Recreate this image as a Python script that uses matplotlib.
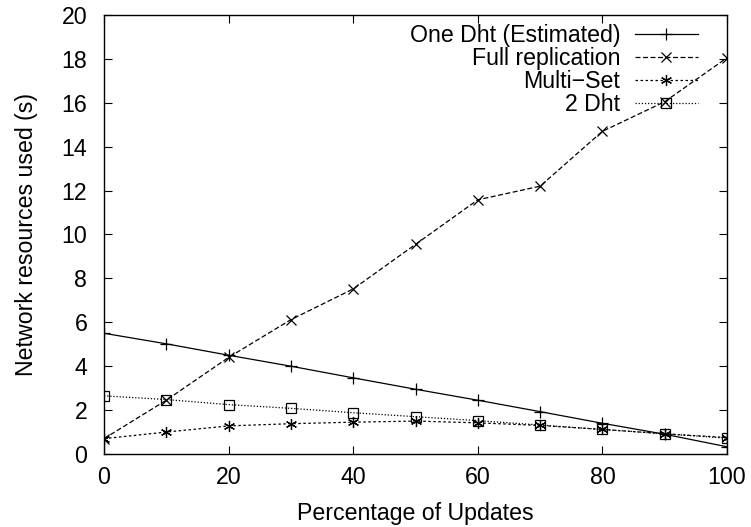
import matplotlib
matplotlib.use('Agg')
import matplotlib.pyplot as plt

plt.rcParams['font.family'] = ['Liberation Sans', 'DejaVu Sans']

updates = [0, 10, 20, 30, 40, 50, 60, 70, 80, 90, 100]
one_dht = [5.5, 5.02, 4.5, 4.0, 3.47, 2.95, 2.45, 1.93, 1.4, 0.9, 0.33]
full_repl = [0.7, 2.45, 4.4, 6.12, 7.52, 9.55, 11.58, 12.2, 14.7, 16.05, 18.05]
multi_set = [0.7, 1.0, 1.28, 1.38, 1.45, 1.5, 1.42, 1.3, 1.12, 0.92, 0.75]
two_dht = [2.65, 2.48, 2.25, 2.08, 1.88, 1.7, 1.52, 1.32, 1.12, 0.92, 0.72]

labels = ['One Dht (Estimated)', 'Full replication', 'Multi\u2212Set', '2 Dht']

fs = 16.7

fig = plt.figure(figsize=(7.51, 5.27), dpi=100)
ax = fig.add_axes([104/751, 1-454/527, 623/751, 439/527])

ax.plot(updates, one_dht, '-', color='black', lw=0.9, marker='+', ms=8, mew=0.9, label=labels[0])
ax.plot(updates, full_repl, color='black', lw=0.9, ls=(0, (4, 2)), marker='x', ms=7, mew=0.9, label=labels[1])
ax.plot(updates, multi_set, color='black', lw=0.9, ls=(0, (2, 2)), marker=(6, 2, 0), ms=8, mew=0.9, label=labels[2])
ax.plot(updates, two_dht, color='black', lw=0.9, ls=(0, (1, 1.5)), marker='s', ms=7, mew=0.9,
        mfc='none', label=labels[3])

ax.set_xlim(0, 100)
ax.set_ylim(0, 20)
ax.set_xticks(range(0, 101, 20))
ax.set_yticks(range(0, 21, 2))
ax.tick_params(direction='in', top=True, right=True, length=6, labelsize=fs)
ax.tick_params(axis='y', pad=12)
ax.tick_params(axis='x', pad=9)
for s in ax.spines.values():
    s.set_linewidth(1)

ax.set_xlabel('Percentage of Updates', fontsize=fs, labelpad=9)
ax.set_ylabel('Network resources used (s)', fontsize=fs, labelpad=17)

ax.legend(loc='upper right', bbox_to_anchor=(0.968, 1.0), markerfirst=False, frameon=False,
          fontsize=fs, handlelength=2.7, labelspacing=0.0, handletextpad=0.65, borderaxespad=0.0)

fig.savefig('out.png', dpi=100)
